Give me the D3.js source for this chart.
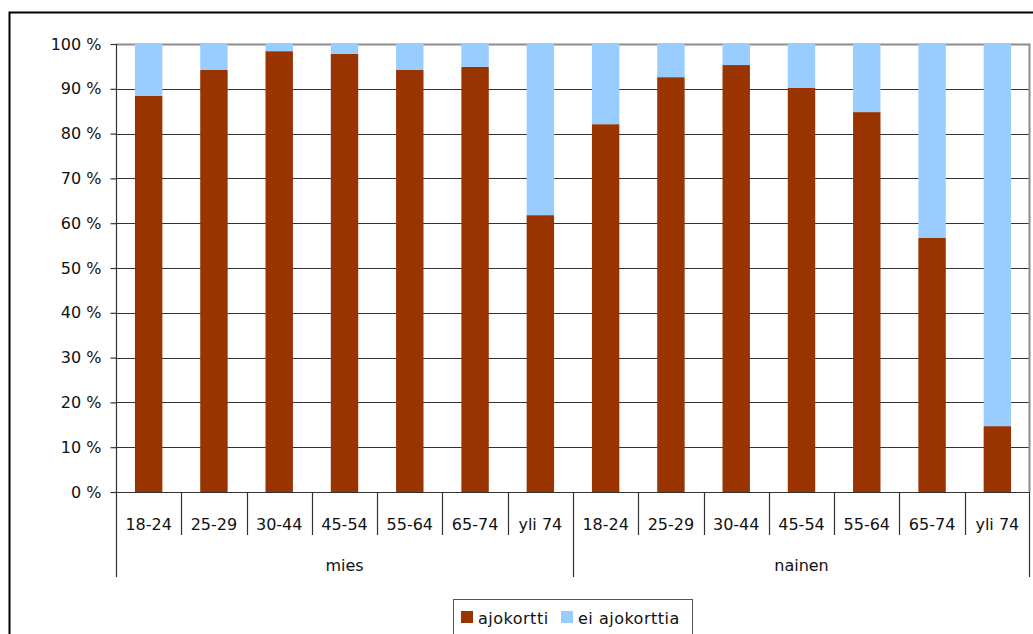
<!DOCTYPE html>
<html>
<head>
<meta charset="utf-8">
<script src="https://cdn.jsdelivr.net/npm/d3@7"></script>
<style>
  html, body { margin: 0; padding: 0; background: #fff; }
  svg { display: block; font-family: "DejaVu Sans", Verdana, sans-serif; }
</style>
</head>
<body>
<svg id="chart" width="1033" height="634"></svg>
<script>
// Age groups within each gender
const ageGroups = ["18-24", "25-29", "30-44", "45-54", "55-64", "65-74", "yli 74"];
const genders = ["mies", "nainen"];
// Share (%) with a driving licence, per gender and age group
const ajokorttiMies = [88.4, 94.2, 98.4, 97.8, 94.2, 94.9, 61.8];
const ajokorttiNainen = [82.1, 92.6, 95.3, 90.2, 84.8, 56.7, 14.7];
const seriesNames = ["ajokortti", "ei ajokorttia"];
const seriesColors = ["#993300", "#99CCFF"];
const yTicks = [0, 10, 20, 30, 40, 50, 60, 70, 80, 90, 100];

const rows = [];
genders.forEach((g, gi) => {
  const vals = gi === 0 ? ajokorttiMies : ajokorttiNainen;
  ageGroups.forEach((a, i) => {
    rows.push({ key: g + "|" + a, gender: g, age: a, ajokortti: vals[i], ei: 100 - vals[i] });
  });
});

const svg = d3.select("#chart");

// Outer chart frame
svg.append("rect")
  .attr("x", 9.5).attr("y", 12.5).attr("width", 1040).attr("height", 640)
  .attr("fill", "none").attr("stroke", "#000").attr("stroke-width", 2);

const plot = { left: 116, right: 1030, top: 44, bottom: 492 };

const x = d3.scaleBand()
  .domain(rows.map(d => d.key))
  .range([plot.left, plot.right])
  .paddingInner(0.58).paddingOuter(0.29);

const y = d3.scaleLinear().domain([0, 100]).range([plot.bottom, plot.top]);

// Horizontal gridlines
svg.append("g")
  .selectAll("line")
  .data(yTicks.filter(t => t > 0 && t < 100))
  .join("line")
  .attr("x1", plot.left).attr("x2", plot.right)
  .attr("y1", d => Math.round(y(d)) + 0.5).attr("y2", d => Math.round(y(d)) + 0.5)
  .attr("stroke", "#333").attr("stroke-width", 1.2);

// Plot area top / right border
svg.append("path")
  .attr("d", `M${plot.left},${plot.top + 0.5}H${plot.right - 0.5}V${plot.bottom}`)
  .attr("fill", "none").attr("stroke", "#8c8c8c").attr("stroke-width", 2);

// Stacked bars
const stack = d3.stack().keys(["ajokortti", "ei"]);
const layers = stack(rows);
svg.append("g")
  .selectAll("g")
  .data(layers)
  .join("g")
  .attr("fill", (d, i) => seriesColors[i])
  .selectAll("rect")
  .data(d => d)
  .join("rect")
  .attr("x", d => x(d.data.key))
  .attr("width", x.bandwidth())
  .attr("y", d => y(d[1]))
  .attr("height", d => y(d[0]) - y(d[1]));

// Y axis
const yAxis = d3.axisLeft(y)
  .tickValues(yTicks)
  .tickFormat(d => d + " %")
  .tickSize(6)
  .tickPadding(9);
const yg = svg.append("g")
  .attr("transform", `translate(${plot.left + 0.5},0)`)
  .call(yAxis);
yg.select(".domain").attr("stroke", "#333").attr("stroke-width", 1.2).attr("d", `M0,${plot.top}V${plot.bottom}`);
yg.selectAll(".tick line").attr("stroke", "#333").attr("stroke-width", 1.2);
yg.selectAll(".tick text")
  .attr("font-family", "DejaVu Sans, sans-serif")
  .attr("font-size", 16).attr("fill", "#111");

// X axis baseline
svg.append("line")
  .attr("x1", plot.left).attr("x2", plot.right)
  .attr("y1", plot.bottom + 0.5).attr("y2", plot.bottom + 0.5)
  .attr("stroke", "#333").attr("stroke-width", 1.2);

// Category separators and labels
const step = x.step();
const bandStart = d => x(d) - x.paddingInner() * step / 2;
const sepG = svg.append("g");
rows.forEach((d, i) => {
  const left = Math.round(plot.left + i * (plot.right - plot.left) / rows.length) + 0.5;
  const isGroupEdge = i % ageGroups.length === 0;
  sepG.append("line")
    .attr("x1", left).attr("x2", left)
    .attr("y1", plot.bottom).attr("y2", isGroupEdge ? 577 : 535)
    .attr("stroke", "#333").attr("stroke-width", 1.2);
  sepG.append("text")
    .attr("x", x(d.key) + x.bandwidth() / 2)
    .attr("y", 530)
    .attr("text-anchor", "middle")
    .attr("font-size", 16).attr("fill", "#111")
    .text(d.age);
});
sepG.append("line")
  .attr("x1", plot.right - 0.5).attr("x2", plot.right - 0.5)
  .attr("y1", plot.bottom).attr("y2", 577)
  .attr("stroke", "#333").attr("stroke-width", 1.2);

// Gender group labels
const groupW = (plot.right - plot.left) / genders.length;
genders.forEach((g, gi) => {
  svg.append("text")
    .attr("x", plot.left + groupW * (gi + 0.5))
    .attr("y", 571)
    .attr("text-anchor", "middle")
    .attr("font-size", 16).attr("fill", "#111")
    .text(g);
});

// Legend
const legend = svg.append("g");
legend.append("rect")
  .attr("x", 453.5).attr("y", 599.5).attr("width", 239).attr("height", 50)
  .attr("fill", "#fff").attr("stroke", "#555").attr("stroke-width", 1);
const legendItems = [{ x: 461, tx: 478 }, { x: 561, tx: 578 }];
seriesNames.forEach((name, i) => {
  legend.append("rect")
    .attr("x", legendItems[i].x).attr("y", 611)
    .attr("width", 12).attr("height", 12)
    .attr("fill", seriesColors[i]);
  legend.append("text")
    .attr("x", legendItems[i].tx).attr("y", 624)
    .attr("font-size", 16).attr("letter-spacing", 0.5).attr("fill", "#111")
    .text(name);
});
</script>
</body>
</html>
